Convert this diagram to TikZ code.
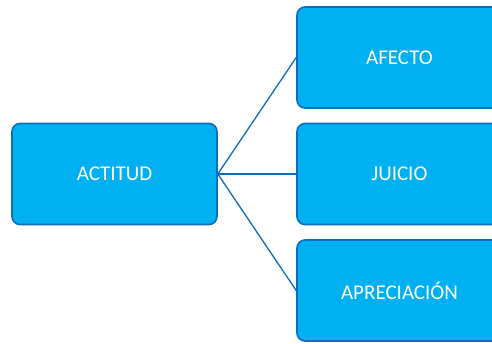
\documentclass[tikz,border=0pt]{standalone}
\usepackage{fontspec}
\setmainfont{Carlito}
\usepackage{tikz}
\usepackage{xcolor}
\definecolor{cFill}{HTML}{00B0F0}
\definecolor{cEdge}{HTML}{0A6EBD}
\tikzset{
  box/.style  ={rounded corners=8pt,draw=cEdge,line width=1.6pt,fill=cFill,
                text=white,align=center,inner sep=0pt,
                font=\fontsize{21}{25}\selectfont,
                minimum width=205pt,minimum height=101pt},
  link/.style ={draw=cEdge,line width=1.3pt},
}

\begin{document}
\begin{tikzpicture}[x=1pt,y=-1pt]
\useasboundingbox (0,0) rectangle (492,343);
\node[box] (act) at (114.5,174) {ACTITUD};
\node[box] (afe) at (399.5,57.5) {AFECTO};
\node[box] (jui) at (399.5,174) {JUICIO};
\node[box] (apr) at (399.5,290.5) {APRECIACIÓN};

\draw[link] (act.east)--(afe.west);
\draw[link] (act.east)--(jui.west);
\draw[link] (act.east)--(apr.west);
\end{tikzpicture}
\end{document}
